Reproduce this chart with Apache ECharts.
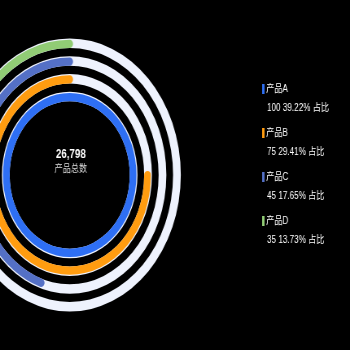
<!DOCTYPE html>
<html>
<head>
<meta charset="utf-8">
<script src="https://cdn.jsdelivr.net/npm/echarts@6/dist/echarts.min.js"></script>
<style>
html,body{margin:0;padding:0;background:#000;overflow:hidden;width:350px;height:350px;}
#chart{width:430px;height:350px;transform:scaleX(0.814);transform-origin:0 0;}
</style>
</head>
<body>
<div id="chart"></div>
<script>
var names = ['产品A', '产品B', '产品C', '产品D'];
var values = [100, 75, 45, 35];
var colors = ['#2e6ff4', '#ff9c10', '#5470c6', '#91cc75'];
var totalText = '26,798';
var totalLabel = '产品总数';
var trackValues = [100, 100, 100, 100];

var sum = values.reduce(function (a, b) { return a + b; }, 0);
var font = '"Liberation Sans", "Noto Sans CJK SC", sans-serif';

var series = [{
  name: 'track',
  type: 'bar',
  coordinateSystem: 'polar',
  data: trackValues,
  barWidth: 9.5,
  barGap: '-100%',
  silent: true,
  z: 1,
  itemStyle: { color: '#eef2fd' }
}, {
  name: 'values',
  type: 'bar',
  coordinateSystem: 'polar',
  data: values.map(function (v, i) { return { name: names[i], value: v, itemStyle: { color: colors[i] } }; }),
  barWidth: 9.5,
  barGap: '-100%',
  roundCap: true,
  z: 2
}];
names.forEach(function (n, i) {
  series.push({
    name: n,
    type: 'line',
    coordinateSystem: 'polar',
    data: [],
    itemStyle: { color: colors[i] },
    lineStyle: { color: colors[i] }
  });
});

var chart = echarts.init(document.getElementById('chart'));
chart.setOption({
  animation: false,
  backgroundColor: '#000',
  title: {
    text: totalText,
    subtext: totalLabel,
    left: 87,
    top: 149,
    textAlign: 'center',
    padding: 0,
    itemGap: 3,
    textStyle: { color: '#fff', fontSize: 12, fontWeight: 'bold', fontFamily: font },
    subtextStyle: { color: '#ddd', fontSize: 10, fontFamily: font }
  },
  legend: [{
    data: names,
    orient: 'vertical',
    left: 317,
    top: 79,
    itemWidth: 3,
    itemHeight: 10,
    itemGap: 34,
    icon: 'rect',
    textStyle: { color: '#fff', fontSize: 10, lineHeight: 10, fontFamily: font, padding: [0, 0, 0, -3] }
  }, {
    data: names,
    orient: 'vertical',
    left: 318,
    top: 98,
    itemWidth: 0,
    itemHeight: 10,
    itemGap: 34,
    icon: 'none',
    formatter: function (name) {
      var i = names.indexOf(name);
      return values[i] + ' ' + (values[i] / sum * 100).toFixed(2) + '% 占比';
    },
    textStyle: { color: '#fff', fontSize: 10, lineHeight: 10, fontFamily: font }
  }],
  polar: { center: [85.6, 175], radius: [69, 140] },
  angleAxis: { type: 'value', min: 0, max: 100, startAngle: 90, clockwise: false, show: false },
  radiusAxis: { type: 'category', data: names, show: false },
  series: series
});
</script>
</body>
</html>
